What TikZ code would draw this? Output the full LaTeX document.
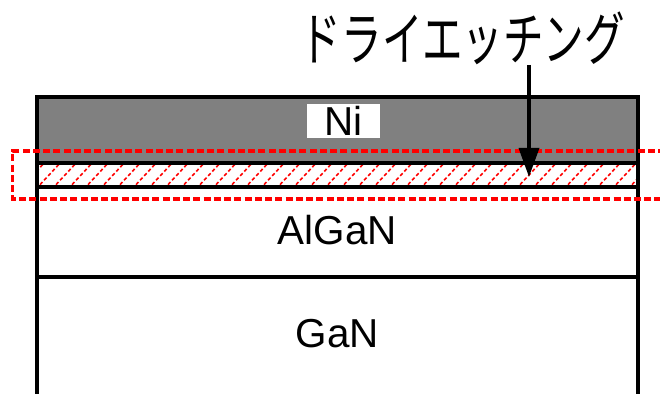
\documentclass[tikz,border=0pt]{standalone}
\usepackage{graphicx}
\usepackage{fontspec}
\setmainfont{Liberation Sans}
\newfontfamily\jpfont{Noto Sans CJK JP}
\usetikzlibrary{arrows.meta}
\definecolor{nigray}{HTML}{808080}
\definecolor{etchred}{HTML}{FF0000}

\begin{document}
\begin{tikzpicture}[x=0.02cm,y=-0.02cm,
    layerline/.style={draw=black,line width=0.07cm},
    layertext/.style={font=\fontsize{23}{23}\selectfont,inner sep=0pt}]
      \useasboundingbox (0,0) rectangle (660,394);
      % Ni layer and etched layer
      \fill[nigray] (37,97) rectangle (638,163);
      \begin{scope}
        \clip (37,163) rectangle (638,187);
        \foreach \x in {20,36,...,660}
          \draw[etchred,line width=0.9pt,dash pattern=on 2pt off 1.4pt] (\x,189) -- (\x+26,161);
      \end{scope}
      % outlines
      \draw[layerline] (37,394) -- (37,97) -- (638,97) -- (638,394);
      \draw[layerline] (37,163) -- (638,163);
      \draw[layerline] (37,187) -- (638,187);
      \draw[layerline] (37,277) -- (638,277);
      % dry etching region
      \draw[etchred,line width=0.065cm,dash pattern=on 0.14cm off 0.065cm]
        (665,151) -| (12.5,199) -- (665,199);
      \node[layertext,fill=white,minimum width=1.46cm,minimum height=0.68cm] (ni) at (343.5,121) {Ni};
      \node[layertext] (algan) at (337.5,230) {AlGaN};
      \node[layertext] (gan) at (337.5,334) {GaN};
      \node[inner sep=0pt,font=\jpfont\fontsize{33}{33}\selectfont] (etch) at (463,38) {\scalebox{0.7}[1]{ドライエッチング}};
      \coordinate (tip) at (529,177);
      \draw[line width=0.07cm,-{Triangle[width=0.4cm,length=0.58cm]}] (etch.south -| tip) -- (tip);
\end{tikzpicture}
\end{document}
